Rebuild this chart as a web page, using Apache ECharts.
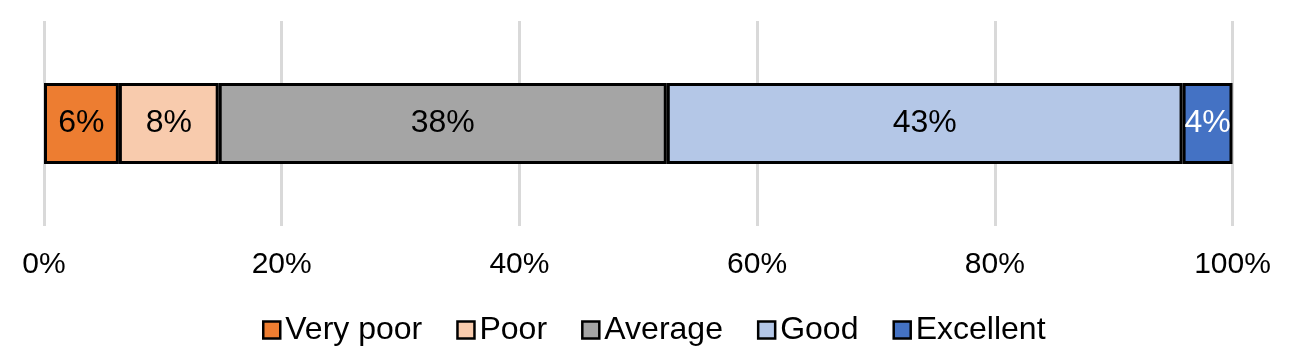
<!DOCTYPE html>
<html>
<head>
<meta charset="utf-8">
<script src="https://cdn.jsdelivr.net/npm/echarts@6/dist/echarts.min.js"></script>
<style>
html,body{margin:0;padding:0;background:#fff;}
#chart{width:1290px;height:356px;}
</style>
</head>
<body>
<div id="chart"></div>
<script>
const categories = ['Rating'];
const seriesNames = ['Very poor', 'Poor', 'Average', 'Good', 'Excellent'];
const veryPoor = [6.3];
const poor = [8.4];
const average = [37.7];
const good = [43.4];
const excellent = [4.2];
const tickValues = [0, 20, 40, 60, 80, 100];
const colors = ['#ED7D31', '#F8CBAD', '#A5A5A5', '#B4C7E7', '#4472C4'];
const labelColors = ['#000', '#000', '#000', '#000', '#fff'];

const dataSets = [veryPoor, poor, average, good, excellent];
const FONT = '"Liberation Sans", Arial, sans-serif';

const chart = echarts.init(document.getElementById('chart'));
chart.setOption({
  animation: false,
  textStyle: { fontFamily: FONT },
  grid: { left: 44, right: 57.5, top: 21, bottom: 130, containLabel: false },
  xAxis: {
    type: 'value', min: 0, max: 100, interval: 20,
    axisLine: { show: false }, axisTick: { show: false },
    splitLine: { show: true, lineStyle: { color: '#D9D9D9', width: 3 } },
    axisLabel: { fontSize: 30, color: '#000', margin: 24, fontFamily: FONT,
      formatter: v => tickValues.includes(v) ? v + '%' : '' }
  },
  yAxis: {
    type: 'category', data: categories,
    axisLine: { show: false }, axisTick: { show: false }, axisLabel: { show: false }
  },
  legend: {
    data: seriesNames, bottom: 5, left: 257, padding: [5, 5, 5, 5], icon: 'rect',
    itemWidth: 17, itemHeight: 17, itemGap: 34,
    textStyle: { fontSize: 32, color: '#000', fontFamily: FONT },
    itemStyle: { borderColor: '#000', borderWidth: 2.5 }
  },
  series: seriesNames.map((name, i) => ({
    name, type: 'bar', stack: 'total', barWidth: 81,
    data: dataSets[i],
    itemStyle: { color: colors[i], borderColor: '#000', borderWidth: 3 },
    label: { show: true, position: 'inside', fontSize: 32, color: labelColors[i], fontFamily: FONT,
      formatter: p => Math.round(p.value) + '%' }
  }))
});
</script>
</body>
</html>
